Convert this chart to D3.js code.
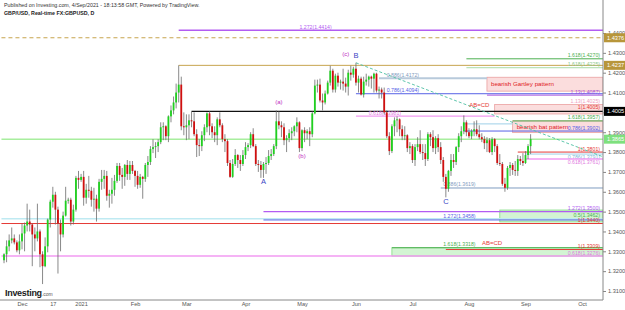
<!DOCTYPE html>
<html>
<head>
<meta charset="utf-8">
<script src="https://cdn.jsdelivr.net/npm/d3@7"></script>
<style>
  body { margin: 0; background: #fff; }
  svg { display: block; font-family: "Liberation Sans", Arial, sans-serif; }
</style>
</head>
<body>
<script>
// GBPUSD daily candles, [open, high, low, close], one row per weekday
var firstDay = "2020-11-20";
var nov2020 = [
  [1.3255, 1.3290, 1.3240, 1.3285], [1.3285, 1.3355, 1.3245, 1.3325], [1.3325, 1.3385, 1.3300, 1.3355],
  [1.3355, 1.3420, 1.3340, 1.3365], [1.3365, 1.3385, 1.3335, 1.3345], [1.3345, 1.3355, 1.3295, 1.3305],
  [1.3305, 1.3385, 1.3285, 1.3350]
];
var dec2020 = [
  [1.3350, 1.3440, 1.3310, 1.3390], [1.3390, 1.3445, 1.3300, 1.3430], [1.3430, 1.3540, 1.3400, 1.3450],
  [1.3450, 1.3510, 1.3400, 1.3435], [1.3435, 1.3440, 1.3225, 1.3385], [1.3385, 1.3420, 1.3300, 1.3365],
  [1.3365, 1.3540, 1.3350, 1.3400], [1.3400, 1.3410, 1.3220, 1.3285], [1.3285, 1.3300, 1.3135, 1.3225],
  [1.3225, 1.3370, 1.3220, 1.3325], [1.3325, 1.3465, 1.3295, 1.3460], [1.3460, 1.3560, 1.3420, 1.3550],
  [1.3550, 1.3625, 1.3520, 1.3585], [1.3585, 1.3600, 1.3435, 1.3510], [1.3510, 1.3525, 1.3188, 1.3440],
  [1.3440, 1.3460, 1.3300, 1.3385], [1.3385, 1.3500, 1.3370, 1.3480], [1.3480, 1.3625, 1.3475, 1.3555],
  [1.3555, 1.3570, 1.3540, 1.3560], [1.3560, 1.3570, 1.3430, 1.3450], [1.3450, 1.3535, 1.3435, 1.3510],
  [1.3510, 1.3680, 1.3500, 1.3670], [1.3670, 1.3705, 1.3615, 1.3660]
];
var jan2021 = [
  [1.3660, 1.3690, 1.3650, 1.3675], [1.3675, 1.3705, 1.3530, 1.3570], [1.3570, 1.3640, 1.3540, 1.3610],
  [1.3610, 1.3680, 1.3570, 1.3605], [1.3605, 1.3625, 1.3525, 1.3560], [1.3560, 1.3620, 1.3500, 1.3565],
  [1.3565, 1.3585, 1.3450, 1.3515], [1.3515, 1.3665, 1.3500, 1.3650], [1.3650, 1.3710, 1.3610, 1.3665],
  [1.3665, 1.3710, 1.3615, 1.3680], [1.3680, 1.3705, 1.3555, 1.3580], [1.3580, 1.3610, 1.3520, 1.3590],
  [1.3590, 1.3670, 1.3540, 1.3610], [1.3610, 1.3685, 1.3580, 1.3655], [1.3655, 1.3745, 1.3645, 1.3730],
  [1.3730, 1.3745, 1.3655, 1.3685], [1.3685, 1.3720, 1.3615, 1.3675], [1.3675, 1.3740, 1.3630, 1.3735],
  [1.3735, 1.3760, 1.3660, 1.3690], [1.3690, 1.3755, 1.3660, 1.3735], [1.3735, 1.3755, 1.3690, 1.3705]
];
var feb2021 = [
  [1.3705, 1.3710, 1.3625, 1.3680], [1.3680, 1.3705, 1.3615, 1.3635], [1.3635, 1.3690, 1.3620, 1.3675],
  [1.3675, 1.3680, 1.3565, 1.3665], [1.3665, 1.3745, 1.3650, 1.3735], [1.3735, 1.3780, 1.3675, 1.3750],
  [1.3750, 1.3830, 1.3735, 1.3815], [1.3815, 1.3865, 1.3795, 1.3825], [1.3825, 1.3850, 1.3770, 1.3830],
  [1.3830, 1.3865, 1.3800, 1.3850], [1.3850, 1.3950, 1.3840, 1.3925], [1.3925, 1.3950, 1.3860, 1.3930],
  [1.3930, 1.3935, 1.3860, 1.3880], [1.3880, 1.3985, 1.3850, 1.3980], [1.3980, 1.4035, 1.3950, 1.4010],
  [1.4010, 1.4080, 1.3990, 1.4050], [1.4050, 1.4145, 1.4020, 1.4100], [1.4100, 1.4237, 1.4050, 1.4140],
  [1.4140, 1.4180, 1.3910, 1.3930], [1.3930, 1.4000, 1.3885, 1.3925]
];
var mar2021 = [
  [1.3925, 1.3990, 1.3860, 1.3935], [1.3935, 1.3990, 1.3865, 1.3960], [1.3960, 1.4005, 1.3925, 1.3955],
  [1.3955, 1.4000, 1.3880, 1.3890], [1.3890, 1.3915, 1.3775, 1.3835], [1.3835, 1.3865, 1.3780, 1.3830],
  [1.3830, 1.3905, 1.3805, 1.3885], [1.3885, 1.3940, 1.3855, 1.3925], [1.3925, 1.4000, 1.3900, 1.3995],
  [1.3995, 1.4005, 1.3885, 1.3930], [1.3930, 1.3945, 1.3870, 1.3900], [1.3900, 1.3930, 1.3850, 1.3885],
  [1.3885, 1.3975, 1.3835, 1.3965], [1.3965, 1.4000, 1.3925, 1.3935], [1.3935, 1.3945, 1.3850, 1.3865],
  [1.3865, 1.3890, 1.3800, 1.3855], [1.3855, 1.3865, 1.3730, 1.3745], [1.3745, 1.3760, 1.3670, 1.3675],
  [1.3675, 1.3765, 1.3670, 1.3740], [1.3740, 1.3815, 1.3730, 1.3785], [1.3785, 1.3790, 1.3720, 1.3760],
  [1.3760, 1.3785, 1.3705, 1.3740], [1.3740, 1.3810, 1.3730, 1.3785]
];
var apr2021 = [
  [1.3785, 1.3850, 1.3765, 1.3825], [1.3825, 1.3845, 1.3805, 1.3835], [1.3835, 1.3900, 1.3820, 1.3890],
  [1.3890, 1.3920, 1.3825, 1.3830], [1.3830, 1.3840, 1.3730, 1.3740], [1.3740, 1.3760, 1.3700, 1.3735],
  [1.3735, 1.3755, 1.3670, 1.3710], [1.3710, 1.3750, 1.3670, 1.3740], [1.3740, 1.3775, 1.3690, 1.3745],
  [1.3745, 1.3810, 1.3735, 1.3780], [1.3780, 1.3815, 1.3760, 1.3790], [1.3790, 1.3840, 1.3780, 1.3830],
  [1.3830, 1.4010, 1.3815, 1.3955], [1.3955, 1.4005, 1.3915, 1.3935], [1.3935, 1.3955, 1.3875, 1.3925],
  [1.3925, 1.3945, 1.3835, 1.3860], [1.3860, 1.3885, 1.3800, 1.3870], [1.3870, 1.3915, 1.3850, 1.3895],
  [1.3895, 1.3925, 1.3860, 1.3905], [1.3905, 1.3935, 1.3880, 1.3930], [1.3930, 1.3975, 1.3900, 1.3950],
  [1.3950, 1.3955, 1.3800, 1.3820]
];
var may2021 = [
  [1.3820, 1.3915, 1.3805, 1.3910], [1.3910, 1.3925, 1.3850, 1.3895], [1.3895, 1.3915, 1.3865, 1.3905],
  [1.3905, 1.3925, 1.3830, 1.3890], [1.3890, 1.4005, 1.3875, 1.3995], [1.3995, 1.4165, 1.3990, 1.4135],
  [1.4135, 1.4165, 1.4100, 1.4140], [1.4140, 1.4170, 1.4050, 1.4060], [1.4060, 1.4095, 1.4010, 1.4050],
  [1.4050, 1.4110, 1.4040, 1.4095], [1.4095, 1.4160, 1.4090, 1.4150], [1.4150, 1.4235, 1.4135, 1.4210],
  [1.4210, 1.4220, 1.4100, 1.4115], [1.4115, 1.4195, 1.4100, 1.4185], [1.4185, 1.4200, 1.4130, 1.4150],
  [1.4150, 1.4165, 1.4115, 1.4155], [1.4155, 1.4220, 1.4110, 1.4145], [1.4145, 1.4175, 1.4100, 1.4130],
  [1.4130, 1.4215, 1.4085, 1.4200], [1.4200, 1.4235, 1.4160, 1.4190], [1.4190, 1.4230, 1.4175, 1.4220]
];
var jun2021 = [
  [1.4220, 1.4250, 1.4135, 1.4150], [1.4150, 1.4185, 1.4100, 1.4170], [1.4170, 1.4180, 1.4085, 1.4090],
  [1.4090, 1.4180, 1.4075, 1.4155], [1.4155, 1.4195, 1.4135, 1.4165], [1.4165, 1.4185, 1.4130, 1.4180],
  [1.4180, 1.4185, 1.4120, 1.4170], [1.4170, 1.4200, 1.4100, 1.4195], [1.4195, 1.4200, 1.4100, 1.4110],
  [1.4110, 1.4130, 1.4070, 1.4115], [1.4115, 1.4125, 1.4070, 1.4100], [1.4100, 1.4125, 1.3990, 1.4000],
  [1.4000, 1.4010, 1.3870, 1.3880], [1.3880, 1.3900, 1.3785, 1.3805], [1.3805, 1.3940, 1.3795, 1.3930],
  [1.3930, 1.3975, 1.3880, 1.3960], [1.3960, 1.3980, 1.3900, 1.3965], [1.3965, 1.3970, 1.3880, 1.3915],
  [1.3915, 1.3935, 1.3860, 1.3880], [1.3880, 1.3930, 1.3860, 1.3885], [1.3885, 1.3890, 1.3800, 1.3820],
  [1.3820, 1.3850, 1.3790, 1.3830]
];
var jul2021 = [
  [1.3830, 1.3840, 1.3745, 1.3760], [1.3760, 1.3840, 1.3730, 1.3825], [1.3825, 1.3875, 1.3805, 1.3840],
  [1.3840, 1.3910, 1.3790, 1.3800], [1.3800, 1.3840, 1.3760, 1.3795], [1.3795, 1.3840, 1.3730, 1.3765],
  [1.3765, 1.3900, 1.3755, 1.3890], [1.3890, 1.3900, 1.3830, 1.3875], [1.3875, 1.3910, 1.3800, 1.3820],
  [1.3820, 1.3880, 1.3790, 1.3870], [1.3870, 1.3890, 1.3800, 1.3825], [1.3825, 1.3850, 1.3740, 1.3760],
  [1.3760, 1.3775, 1.3650, 1.3675], [1.3675, 1.3690, 1.3572, 1.3615], [1.3615, 1.3710, 1.3600, 1.3705],
  [1.3705, 1.3790, 1.3680, 1.3760], [1.3760, 1.3790, 1.3720, 1.3750], [1.3750, 1.3830, 1.3735, 1.3825],
  [1.3825, 1.3895, 1.3800, 1.3880], [1.3880, 1.3930, 1.3850, 1.3905], [1.3905, 1.3985, 1.3890, 1.3950],
  [1.3950, 1.3960, 1.3880, 1.3900]
];
var aug2021 = [
  [1.3900, 1.3920, 1.3870, 1.3880], [1.3880, 1.3915, 1.3865, 1.3905], [1.3905, 1.3955, 1.3880, 1.3915],
  [1.3915, 1.3960, 1.3880, 1.3890], [1.3890, 1.3935, 1.3865, 1.3875], [1.3875, 1.3895, 1.3850, 1.3865],
  [1.3865, 1.3880, 1.3815, 1.3845], [1.3845, 1.3875, 1.3800, 1.3860], [1.3860, 1.3870, 1.3795, 1.3800],
  [1.3800, 1.3875, 1.3785, 1.3865], [1.3865, 1.3870, 1.3800, 1.3830], [1.3830, 1.3840, 1.3735, 1.3745],
  [1.3745, 1.3790, 1.3730, 1.3740], [1.3740, 1.3750, 1.3630, 1.3640], [1.3640, 1.3670, 1.3600, 1.3620],
  [1.3620, 1.3730, 1.3610, 1.3720], [1.3720, 1.3750, 1.3680, 1.3735], [1.3735, 1.3745, 1.3685, 1.3710],
  [1.3710, 1.3755, 1.3680, 1.3705], [1.3705, 1.3785, 1.3680, 1.3765], [1.3765, 1.3780, 1.3735, 1.3755],
  [1.3755, 1.3795, 1.3730, 1.3745]
];
var sep2021 = [
  [1.3745, 1.3805, 1.3740, 1.3785], [1.3785, 1.3840, 1.3765, 1.3830], [1.3830, 1.3890, 1.3790, 1.3865]
];

// price scale ticks and time axis
var priceTicks = [1.31, 1.32, 1.33, 1.34, 1.35, 1.36, 1.37, 1.38, 1.39, 1.40, 1.41, 1.42, 1.43, 1.44];
var timeTicks = ["2020-12-01", "2020-12-17", "2021-01-01", "2021-02-01", "2021-03-01", "2021-04-01",
  "2021-05-03", "2021-06-01", "2021-07-01", "2021-08-02", "2021-09-01", "2021-10-01"];
var timeLabels = ["Dec", "17", "2021", "Feb", "Mar", "Apr", "May", "Jun", "Jul", "Aug", "Sep", "Oct"];

// horizontal drawings: [label, price, from, to (null = right edge), label anchor (null = right), kind]
var levels = [
  ["1.272(1.4414)", 1.4414, "2021-02-24", null, "2021-04-30", "violet"],
  ["", 1.4376, "2020-11-19", null, null, "golddash"],
  ["1.618(1.4270)", 1.4270, "2021-07-30", null, null, "green"],
  ["", 1.4237, "2021-02-24", null, null, "gold"],
  ["1.618(1.4225)", 1.4225, "2021-07-30", null, null, "palegreen"],
  ["0.886(1.4172)", 1.4172, "2021-06-14", "2021-08-11", "2021-06-17", "steel"],
  ["0.786(1.4094)", 1.4094, "2021-06-01", null, "2021-06-17", "blue"],
  ["1.13(1.4087)", 1.4087, "2021-08-11", null, null, "purple"],
  ["", 1.4005, "2021-03-03", null, null, "black"],
  ["0.618(1.3981)", 1.3981, "2021-06-01", "2021-08-16", "2021-06-08", "pink"],
  ["1.618(1.3957)", 1.3957, "2021-08-25", null, null, "green"],
  ["", 1.3942, "2021-07-29", "2021-08-25", null, "lightblue"],
  ["0.786(1.3902)", 1.3906, "2021-07-29", null, null, "blue"],
  ["", 1.3865, "2020-11-19", null, null, "lime"],
  ["1(1.3801)", 1.3800, "2021-08-27", null, null, "red"],
  ["0.786(1.3791)", 1.3790, "2021-09-01", null, null, "lightblue"],
  ["0.618(1.3761)", 1.3765, "2021-09-01", null, null, "pink"],
  ["0.886(1.3619)", 1.3619, "2021-07-16", null, "2021-07-19", "steel2"],
  ["1.272(1.3500)", 1.3500, "2021-04-12", null, null, "violet"],
  ["", 1.3464, "2020-11-19", null, null, "cyan"],
  ["1.272(1.3458)", 1.3458, "2021-04-12", null, "2021-07-19", "blue"],
  ["1(1.3440)", 1.3440, "2020-11-19", null, null, "red"],
  ["1.618(1.3318)", 1.3318, "2021-06-21", null, "2021-07-19", "green"],
  ["1(1.3309)", 1.3309, "2021-07-20", null, null, "red"],
  ["0.618(1.3276)", 1.3276, "2020-11-19", null, null, "pink"]
];
// labels that sit under their line instead of over it
var labelsBelow = ["0.786(1.3791)", "0.618(1.3761)"];

// pattern zones: [text, top price, bottom price, from, kind]
var zones = [
  ["bearish Gartley pattern", 1.4177, 1.4107, "2021-08-11", "pink"],
  ["", 1.4040, 1.3992, "2021-08-16", "pink"],
  ["bearish bat pattern", 1.3957, 1.3898, "2021-08-25", "pink"],
  ["", 1.3508, 1.3448, "2021-08-18", "green"],
  ["", 1.3318, 1.3276, "2021-06-21", "green"]
];
var zoneLabels = [["1.13(1.4025)", 1.4045, "#f0a0c0"], ["1(1.4005)", 1.4016, "#e53935"], ["0.5(1.3462)", 1.3474, "#4caf50"]];

// wave labels: [text, date, price, kind]
var waves = [
  ["(c)", "2021-05-26", 1.4282, "minor"], ["B", "2021-06-01", 1.4275, "major"],
  ["(a)", "2021-04-20", 1.4040, "minor"], ["(b)", "2021-05-03", 1.3770, "minor"],
  ["A", "2021-04-12", 1.3640, "major"], ["C", "2021-07-20", 1.3538, "major"],
  ["AB=CD", "2021-08-06", 1.4025, "red"], ["AB=CD", "2021-08-13", 1.3334, "red"]
];
var trendFrom = ["2021-06-01", 1.4250], trendTo = ["2021-10-27", 1.3728];

// axis price tags: [price, text, kind]
var tags = [[1.4376, "1.4376", "gold"], [1.4237, "1.4237", "gold"], [1.4005, "1.4005", "black"], [1.3865, "1.3865", "lime"]];

var W = 625, H = 310, axisX = 603, axisY = 300;

function weekdays(a, b) {
  var n = 0;
  for (var u = a; u < b; u += 864e5) {
    var k = new Date(u).getUTCDay();
    if (k > 0 && k < 6) n++;
  }
  return n;
}
var base = Date.UTC(2020, 11, 1);
function dayIdx(s) {
  var t = Date.parse(s + "T00:00:00Z");
  return t >= base ? weekdays(base, t) : -weekdays(t, base);
}

var candles = [].concat(nov2020, dec2020, jan2021, feb2021, mar2021, apr2021, may2021, jun2021, jul2021, aug2021, sep2021);
var start = dayIdx(firstDay);

var x = d3.scaleLinear().domain([0, 218]).range([22, 582]);
var y = d3.scaleLinear().domain([1.31, 1.44]).range([291, 33]);

var colors = {
  violet: "#b35cf2", gold: "#c7a54e", golddash: "#c7a54e", green: "#4caf50", palegreen: "#a8dba8",
  steel: "#b8cadb", steel2: "#7f9cc0", blue: "#5662e6", purple: "#a552de", black: "#111", pink: "#f29af2",
  lightblue: "#9fd0e8", lime: "#a8ee9e", red: "#e53935", cyan: "#bfeaf2"
};
var labelColors = { palegreen: "#8cc98c", steel: "#7f9cc0", pink: "#e07ae0", lightblue: "#7cb8d6" };

var svg = d3.select("body").append("svg").attr("width", W).attr("height", H);
svg.append("defs").append("clipPath").attr("id", "plot")
  .append("rect").attr("x", 0).attr("y", 0).attr("width", axisX).attr("height", axisY);

var plot = svg.append("g").attr("clip-path", "url(#plot)");

// zones under everything
zones.forEach(function (z) {
  var x0 = x(dayIdx(z[3])), y0 = y(z[1]), y1 = y(z[2]);
  plot.append("rect").attr("x", x0).attr("y", y0).attr("width", axisX - x0).attr("height", y1 - y0)
    .attr("fill", z[4] == "pink" ? "rgba(240,120,120,0.25)" : "rgba(110,220,110,0.3)")
    .attr("stroke", z[4] == "pink" ? "#eaa0a0" : "#7fdc7f").attr("stroke-width", 0.8);
  if (z[0]) plot.append("text").attr("x", x0 + 4).attr("y", (y0 + y1) / 2 + 2.2)
    .attr("font-size", 6.2).attr("fill", "#e0201c").text(z[0]);
});

// level lines
levels.forEach(function (l) {
  var x0 = x(dayIdx(l[2])), x1 = l[3] ? x(dayIdx(l[3])) : axisX, yy = y(l[1]);
  var k = l[5];
  plot.append("line").attr("x1", x0).attr("x2", x1).attr("y1", yy).attr("y2", yy)
    .attr("stroke", colors[k])
    .attr("stroke-width", k == "steel" ? 2.2 : (k == "black" || k == "violet" || k == "lime" || k == "cyan" || k == "pink") ? 1.4 : 1)
    .attr("stroke-dasharray", k == "golddash" ? "4,3" : null);
  if (l[0]) {
    var below = labelsBelow.indexOf(l[0]) >= 0;
    var t = plot.append("text").attr("y", below ? yy + 4.6 : yy - 1.5).attr("font-size", 5.2)
      .attr("fill", labelColors[k] || colors[k]).text(l[0]);
    if (l[4]) t.attr("x", x(dayIdx(l[4])));
    else t.attr("x", axisX - 3).attr("text-anchor", "end");
  }
});
zoneLabels.forEach(function (z) {
  plot.append("text").attr("x", axisX - 3).attr("y", y(z[1])).attr("text-anchor", "end")
    .attr("font-size", 5.2).attr("fill", z[2]).text(z[0]);
});

// trend line from B
plot.append("line")
  .attr("x1", x(dayIdx(trendFrom[0]))).attr("y1", y(trendFrom[1]))
  .attr("x2", x(dayIdx(trendTo[0]))).attr("y2", y(trendTo[1]))
  .attr("stroke", "#4dbfa3").attr("stroke-width", 0.9).attr("stroke-dasharray", "3,2");

// candles
var cg = plot.append("g");
candles.forEach(function (c, i) {
  var cx = x(start + i), up = c[3] >= c[0];
  cg.append("line").attr("x1", cx).attr("x2", cx).attr("y1", y(c[1])).attr("y2", y(c[2]))
    .attr("stroke", "#6b6b6b").attr("stroke-width", 0.8);
  var top = y(Math.max(c[0], c[3])), bot = y(Math.min(c[0], c[3]));
  cg.append("rect").attr("x", cx - 0.9).attr("width", 1.8).attr("y", top).attr("height", Math.max(bot - top, 0.7))
    .attr("fill", up ? "#1fd11f" : "#d10f0f");
});

// wave labels
waves.forEach(function (w) {
  plot.append("text").attr("x", x(dayIdx(w[1]))).attr("y", y(w[2])).attr("text-anchor", "middle")
    .attr("font-size", w[3] == "major" ? 7.5 : 6)
    .attr("fill", w[3] == "major" ? "#3b44c4" : w[3] == "red" ? "#e53935" : "#c02cc0")
    .text(w[0]);
});

// right price axis
var yAxis = svg.append("g").attr("transform", "translate(" + axisX + ",0)")
  .call(d3.axisRight(y).tickValues(priceTicks).tickFormat(d3.format(".4f")).tickSize(3));
yAxis.select(".domain").attr("stroke", "#888").attr("d", "M0,0V" + axisY);
yAxis.selectAll(".tick line").attr("stroke", "#888");
yAxis.selectAll(".tick text").attr("font-size", 5.6).attr("fill", "#555").attr("x", 5)
  .attr("font-family", "Liberation Sans, Arial, sans-serif");

tags.forEach(function (t) {
  var g = svg.append("g").attr("transform", "translate(" + axisX + "," + y(t[0]) + ")");
  g.append("rect").attr("x", 1).attr("y", -4.5).attr("width", 21).attr("height", 9)
    .attr("fill", t[2] == "gold" ? "#b8963a" : t[2] == "black" ? "#000" : "#7ee07e");
  g.append("text").attr("x", 4).attr("y", 2).attr("font-size", 5.6).attr("fill", "#fff").text(t[1]);
});

// bottom time axis
var xAxis = svg.append("g").attr("transform", "translate(0," + axisY + ")")
  .call(d3.axisBottom(x).tickValues(timeTicks.map(dayIdx))
    .tickFormat(function (d, i) { return timeLabels[i]; }).tickSize(0));
xAxis.select(".domain").attr("stroke", "#888").attr("d", "M0,0H" + axisX);
xAxis.selectAll(".tick text").attr("font-size", 5.6).attr("fill", "#555").attr("y", 2)
  .attr("font-family", "Liberation Sans, Arial, sans-serif");

// header + logo
svg.append("text").attr("x", 4).attr("y", 7).attr("font-size", 5.3).attr("fill", "#333")
  .text("Published on Investing.com, 4/Sep/2021 - 18:13:58 GMT, Powered by TradingView.");
svg.append("text").attr("x", 4).attr("y", 15).attr("font-size", 5.3).attr("font-weight", "bold").attr("fill", "#222")
  .text("GBP/USD, Real-time FX:GBPUSD, D");
var logo = svg.append("text").attr("x", 5).attr("y", 296).attr("fill", "#1a1a1a");
logo.append("tspan").attr("font-size", 9).attr("font-weight", "bold").attr("letter-spacing", -0.3).text("Investing");
logo.append("tspan").attr("font-size", 5).attr("fill", "#555").text(".com");
</script>
</body>
</html>
